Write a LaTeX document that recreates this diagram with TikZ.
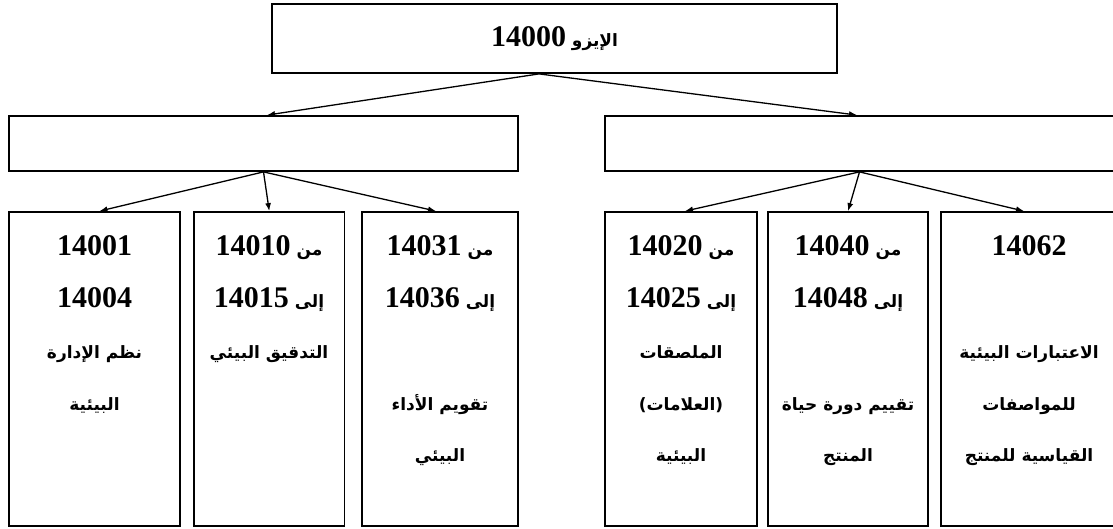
\documentclass[tikz,border=0pt]{standalone}
\usepackage{fontspec}
\setmainfont{Liberation Serif}
\newfontfamily\arabicfont[Script=Arabic]{DejaVu Sans}
\TeXXeTstate=1
\usetikzlibrary{arrows.meta}
\newcommand\arb{\arabicfont\bfseries\fontsize{17}{17}\selectfont}
\newcommand\dgt{\rmfamily\bfseries\fontsize{30}{30}\selectfont}
% Arabic word followed (to its left) by a number
\newcommand\arnum[2]{{\arb\beginR #1 \beginL{\dgt #2}\endL\endR}}
\newcommand\artxt[1]{{\arb\beginR #1\endR}}
\tikzset{
  box/.style={draw, line width=1.8pt, inner sep=0pt},
  link/.style={line width=1.3pt, -{Latex[length=8pt,width=6pt]}},
  linetext/.style={inner sep=0pt, anchor=base},
}
\begin{document}
\begin{tikzpicture}[x=1pt, y=-1pt]
\useasboundingbox (0,0) rectangle (1113,529);
\fill[white] (0,0) rectangle (1113,529);
\clip (0,0) rectangle (1113,529);

% top level
\node[box, minimum width=565pt, minimum height=69pt] (top) at (554.5,38.5)
  {\arnum{الإيزو}{14000}};

% second level
\node[box, minimum width=509pt, minimum height=55pt] (lm) at (263.5,143.5) {};
\node[box, minimum width=509pt, minimum height=55pt] (rm) at (859.5,143.5) {};

% third level
\node[box, minimum width=171pt, minimum height=314pt] (b1) at (94.5,369) {};
\node[box, minimum width=150.5pt, minimum height=314pt] (b2) at (269.25,369) {};
\node[box, minimum width=156pt, minimum height=314pt] (b3) at (440,369) {};
\node[box, minimum width=152pt, minimum height=314pt] (b4) at (681,369) {};
\node[box, minimum width=160pt, minimum height=314pt] (b5) at (848,369) {};
\node[box, minimum width=176pt, minimum height=314pt] (b6) at (1029,369) {};

% connectors
\draw[link] ([xshift=-15.5pt]top.south) -- ([xshift=3.5pt]lm.north);
\draw[link] ([xshift=-15.5pt]top.south) -- ([xshift=-2.5pt]rm.north);
\draw[link] (lm.south) -- ([xshift=5pt]b1.north);
\draw[link] (lm.south) -- (b2.north);
\draw[link] (lm.south) -- ([xshift=-4pt]b3.north);
\draw[link] (rm.south) -- ([xshift=4pt]b4.north);
\draw[link] (rm.south) -- (b5.north);
\draw[link] (rm.south) -- ([xshift=-5pt]b6.north);

% box texts (baselines 255, 307, 358, 410, 461)
\node[linetext] (b1t1) at (94.5,255) {\dgt 14001};
\node[linetext] (b1t2) at (94.5,307) {\dgt 14004};
\node[linetext] (b1t3) at (94.5,358) {\artxt{نظم الإدارة}};
\node[linetext] (b1t4) at (94.5,410) {\artxt{البيئية}};

\node[linetext] (b2t1) at (269,255) {\arnum{من}{14010}};
\node[linetext] (b2t2) at (269,307) {\arnum{إلى}{14015}};
\node[linetext] (b2t3) at (269,358) {\artxt{التدقيق البيئي}};

\node[linetext] (b3t1) at (440,255) {\arnum{من}{14031}};
\node[linetext] (b3t2) at (440,307) {\arnum{إلى}{14036}};
\node[linetext] (b3t4) at (440,410) {\artxt{تقويم الأداء}};
\node[linetext] (b3t5) at (440,461) {\artxt{البيئي}};

\node[linetext] (b4t1) at (681,255) {\arnum{من}{14020}};
\node[linetext] (b4t2) at (681,307) {\arnum{إلى}{14025}};
\node[linetext] (b4t3) at (681,358) {\artxt{الملصقات}};
\node[linetext] (b4t4) at (681,410) {\artxt{(العلامات)}};
\node[linetext] (b4t5) at (681,461) {\artxt{البيئية}};

\node[linetext] (b5t1) at (848,255) {\arnum{من}{14040}};
\node[linetext] (b5t2) at (848,307) {\arnum{إلى}{14048}};
\node[linetext] (b5t4) at (848,410) {\artxt{تقييم دورة حياة}};
\node[linetext] (b5t5) at (848,461) {\artxt{المنتج}};

\node[linetext] (b6t1) at (1029,255) {\dgt 14062};
\node[linetext] (b6t3) at (1029,358) {\artxt{الاعتبارات البيئية}};
\node[linetext] (b6t4) at (1029,410) {\artxt{للمواصفات}};
\node[linetext] (b6t5) at (1029,461) {\artxt{القياسية للمنتج}};
\end{tikzpicture}
\end{document}
